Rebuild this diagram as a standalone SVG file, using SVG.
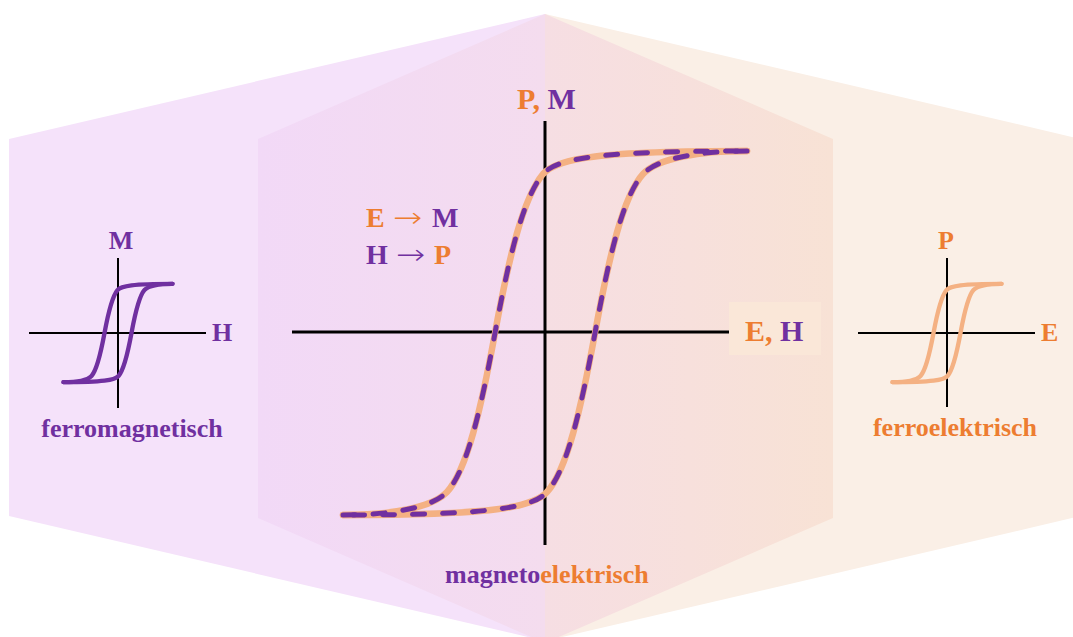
<svg xmlns="http://www.w3.org/2000/svg" xmlns:xlink="http://www.w3.org/1999/xlink" width="1073" height="637" viewBox="0 0 1073 637">
  <style>
    .lbl { font-family: "Liberation Serif", "Times New Roman", serif; font-weight: bold; }
    .arr { font-family: "DejaVu Sans", sans-serif; font-weight: 200; font-size: 28px; }
    .s26 { font-size: 26px; }
    .s28 { font-size: 28px; }
    .s30 { font-size: 30px; }
    .pu { fill: #7030a0; }
    .or { fill: #ed7d31; }
    .axis { stroke: #000; fill: none; }
    .crv { fill: none; stroke-linecap: round; stroke-linejoin: round; }
  </style>
  <defs>
    <linearGradient id="innerGrad" x1="258" y1="0" x2="833" y2="0" gradientUnits="userSpaceOnUse">
      <stop offset="0" stop-color="#f2d9f7"/>
      <stop offset="0.5" stop-color="#f4dcee"/>
      <stop offset="0.5" stop-color="#f6dee3"/>
      <stop offset="1" stop-color="#f8e2d5"/>
    </linearGradient>
    <path id="branchL" d="M 343,515 C 390,515 432,508 447,492 C 467,470 481,409 495,333 C 509,257 523,198 543,174 C 557,158 600,151 747,151"/>
    <path id="branchR" d="M 747,151 C 700,151 658,158 643,174 C 623,196 609,257 595,333 C 581,409 567,470 547,492 C 533,508 490,515 343,515"/>
  </defs>

  <g id="background">
    <polygon points="9,139 545,14 545,641 9,516" fill="#f5e2fa"/>
    <polygon points="545,14 1081,139 1081,516 545,641" fill="#faefe6"/>
    <polygon points="545,14 833,139 833,518 545,643 258,518 258,139" fill="url(#innerGrad)"/>
  </g>

  <g id="ferromagnetisch">
    <line class="axis" x1="29" y1="333" x2="206" y2="333" stroke-width="2"/>
    <line class="axis" x1="118" y1="258" x2="118" y2="408" stroke-width="2"/>
    <g transform="translate(118,333) scale(0.27) translate(-545,-333)">
      <use xlink:href="#branchL" class="crv" stroke="#7030a0" stroke-width="16"/>
      <use xlink:href="#branchR" class="crv" stroke="#7030a0" stroke-width="16"/>
    </g>
    <text class="lbl s26 pu" x="121" y="249" text-anchor="middle">M</text>
    <text class="lbl s26 pu" x="212" y="341">H</text>
    <text class="lbl s26 pu" x="132" y="437" text-anchor="middle">ferromagnetisch</text>
  </g>

  <g id="ferroelektrisch">
    <line class="axis" x1="858" y1="333" x2="1035" y2="333" stroke-width="2"/>
    <line class="axis" x1="947" y1="258" x2="947" y2="407" stroke-width="2"/>
    <g transform="translate(947,333) scale(0.27) translate(-545,-333)">
      <use xlink:href="#branchL" class="crv" stroke="#f4b183" stroke-width="16"/>
      <use xlink:href="#branchR" class="crv" stroke="#f4b183" stroke-width="16"/>
    </g>
    <text class="lbl s26 or" x="946" y="249" text-anchor="middle">P</text>
    <text class="lbl s26 or" x="1041" y="341">E</text>
    <text class="lbl s26 or" x="955" y="436" text-anchor="middle">ferroelektrisch</text>
  </g>

  <g id="magnetoelektrisch">
    <rect x="729" y="302" width="92" height="53" fill="#fae7d8"/>
    <line class="axis" x1="292" y1="332" x2="729" y2="332" stroke-width="3"/>
    <line class="axis" x1="545" y1="121" x2="545" y2="545" stroke-width="3"/>
    <use xlink:href="#branchL" class="crv" stroke="#f4b183" stroke-width="6.5"/>
    <use xlink:href="#branchR" class="crv" stroke="#f4b183" stroke-width="6.5"/>
    <use xlink:href="#branchL" class="crv" stroke="#7030a0" stroke-width="5" stroke-dasharray="12 18"/>
    <use xlink:href="#branchR" class="crv" stroke="#7030a0" stroke-width="5" stroke-dasharray="12 18"/>
    <text class="lbl s30" x="517" y="109"><tspan class="or">P,</tspan><tspan class="pu"> M</tspan></text>
    <text class="lbl s30" x="745" y="341"><tspan class="or">E,</tspan><tspan class="pu"> H</tspan></text>
    <text class="lbl s28 or" x="366" y="227">E</text>
    <text class="arr or" transform="translate(393,227) scale(1.25,1)">→</text>
    <text class="lbl s28 pu" x="432" y="227">M</text>
    <text class="lbl s28 pu" x="366" y="264">H</text>
    <text class="arr pu" transform="translate(396,264) scale(1.25,1)">→</text>
    <text class="lbl s28 or" x="434" y="264">P</text>
    <text class="lbl s26" x="445" y="583"><tspan class="pu">magneto</tspan><tspan class="or">elektrisch</tspan></text>
  </g>
</svg>
